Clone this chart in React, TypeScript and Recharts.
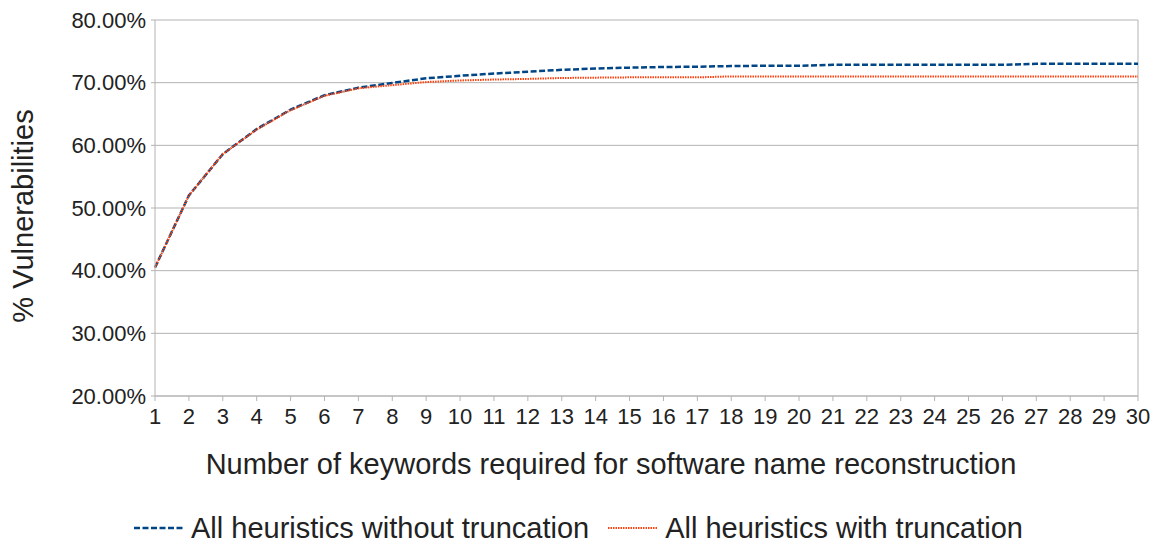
import React from 'react';
import {
  LineChart,
  Line,
  XAxis,
  YAxis,
  CartesianGrid,
  Legend,
  ReferenceLine,
} from 'recharts';

const keywords = [
  1, 2, 3, 4, 5, 6, 7, 8, 9, 10, 11, 12, 13, 14, 15,
  16, 17, 18, 19, 20, 21, 22, 23, 24, 25, 26, 27, 28, 29, 30,
];

const withoutTruncation = [
  40.5, 52.0, 58.6, 62.6, 65.7, 68.0, 69.2, 69.95, 70.7, 71.1,
  71.45, 71.75, 72.05, 72.25, 72.4, 72.5, 72.55, 72.65, 72.7, 72.7,
  72.85, 72.85, 72.85, 72.85, 72.85, 72.85, 73.0, 73.0, 73.0, 73.0,
];

const withTruncation = [
  40.5, 52.0, 58.6, 62.5, 65.6, 67.9, 69.1, 69.6, 70.1, 70.35,
  70.5, 70.6, 70.75, 70.8, 70.85, 70.85, 70.85, 71.0, 71.0, 71.0,
  71.0, 71.0, 71.0, 71.0, 71.0, 71.0, 71.0, 71.0, 71.0, 71.0,
];

const yTicks = [20, 30, 40, 50, 60, 70, 80];

const BLUE = '#004586';
const ORANGE = '#ff420e';
const GRID = '#b3b3b3';
const TEXT = '#222222';
const FONT = '"Liberation Sans", Arial, sans-serif';

const data = keywords.map((k, i) => ({
  k,
  without: withoutTruncation[i],
  with: withTruncation[i],
}));

const legendItems = [
  { name: 'All heuristics without truncation', color: BLUE, dash: '6 2.5', width: 2.5 },
  { name: 'All heuristics with truncation', color: ORANGE, dash: '1.5 1', width: 2 },
];

const renderLegend = () => (
  <div
    style={{
      display: 'flex',
      justifyContent: 'center',
      alignItems: 'center',
      height: 30,
      fontFamily: FONT,
      fontSize: 29,
      color: TEXT,
      lineHeight: '30px',
    }}
  >
    {legendItems.map((item, i) => (
      <div
        key={item.name}
        style={{ display: 'flex', alignItems: 'center', marginLeft: i === 0 ? 0 : 19 }}
      >
        <svg width={50} height={10} style={{ marginRight: 7 }}>
          <line
            x1={0}
            y1={5}
            x2={50}
            y2={5}
            stroke={item.color}
            strokeWidth={item.width}
            strokeDasharray={item.dash}
          />
        </svg>
        <span>{item.name}</span>
      </div>
    ))}
  </div>
);

export default function App() {
  return (
    <div style={{ position: 'absolute', left: 0, top: 0, background: '#fff' }}>
      <LineChart
        width={1157}
        height={544}
        data={data}
        margin={{ top: 20, right: 19, left: 55, bottom: 1 }}
      >
        <CartesianGrid stroke={GRID} vertical={false} />
        <XAxis
          dataKey="k"
          type="number"
          domain={[1, 30]}
          ticks={keywords}
          interval={0}
          height={117}
          stroke={GRID}
          tickSize={5}
          tickMargin={7}
          tick={{ fill: TEXT, fontSize: 22, fontFamily: FONT }}
        />
        <YAxis
          domain={[20, 80]}
          ticks={yTicks}
          width={100}
          stroke={GRID}
          tickSize={4}
          tickMargin={5}
          tickFormatter={(v: number) => `${v.toFixed(2)}%`}
          tick={{ fill: TEXT, fontSize: 22, fontFamily: FONT }}
        />
        <ReferenceLine x={30} stroke={GRID} />
        <Line
          type="linear"
          dataKey="without"
          stroke={BLUE}
          strokeWidth={2.5}
          strokeDasharray="6 2.5"
          dot={false}
          isAnimationActive={false}
        />
        <Line
          type="linear"
          dataKey="with"
          stroke={ORANGE}
          strokeWidth={2}
          strokeDasharray="1.5 1"
          dot={false}
          isAnimationActive={false}
        />
        <Legend
          verticalAlign="bottom"
          align="center"
          content={renderLegend}
          wrapperStyle={{ left: 0, width: 1157 }}
        />
        <text
          x={22.5}
          y={216}
          transform="rotate(-90 22.5 216)"
          textAnchor="middle"
          dominantBaseline="central"
          fontFamily={FONT}
          fontSize={29}
          fill={TEXT}
        >
          % Vulnerabilities
        </text>
        <text
          x={611}
          y={474}
          textAnchor="middle"
          fontFamily={FONT}
          fontSize={29}
          fill={TEXT}
        >
          Number of keywords required for software name reconstruction
        </text>
      </LineChart>
    </div>
  );
}
